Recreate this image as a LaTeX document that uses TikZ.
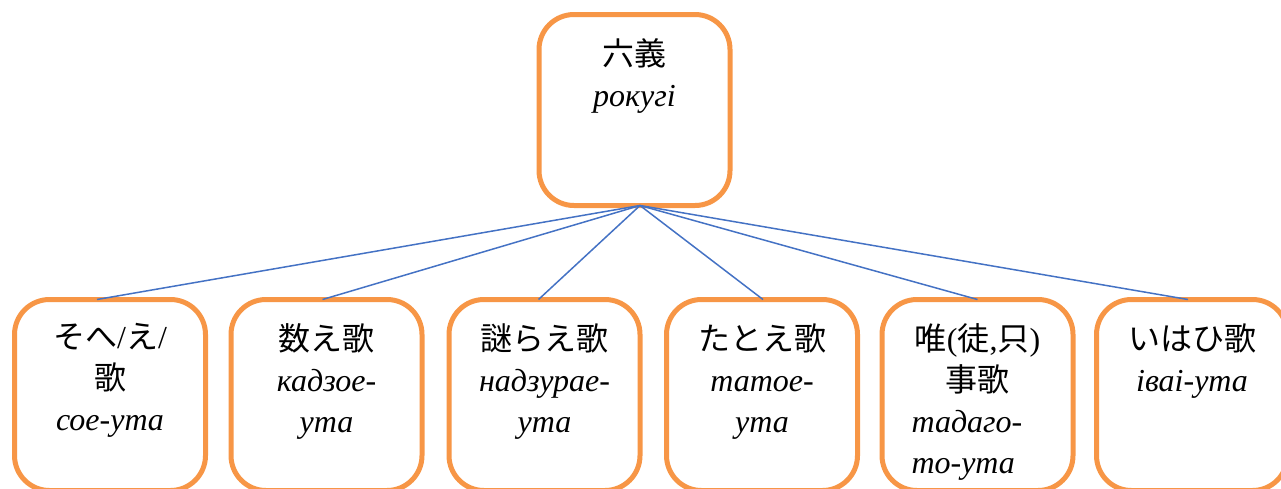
\documentclass[tikz,border=0pt]{standalone}
\usepackage{fontspec}
\setmainfont{Liberation Serif}
\newfontfamily\jp{Noto Sans CJK JP}
\usetikzlibrary{calc}
\definecolor{boxorange}{HTML}{F79646}
\definecolor{lineblue}{HTML}{4472C4}
\begin{document}
\begin{tikzpicture}[x=1pt,y=-1pt,
  box/.style={draw=boxorange,line width=5pt,rounded corners=35pt,fill=white,
    minimum width=191pt,minimum height=191pt,inner sep=0pt,outer sep=0pt},
  lbl/.style={anchor=north,align=center,inner sep=0pt,font=\fontsize{32}{41}\selectfont},
  link/.style={draw=lineblue,line width=1.5pt}]
\useasboundingbox (0,0) rectangle (1281,488);
\begin{scope}
\clip (0,0) rectangle (1281,488);
\node[box] (top) at (634.5,110) {};
\node[box] (b1) at (110,395) {};
\node[box] (b2) at (326.5,395) {};
\node[box] (b3) at (544.5,395) {};
\node[box] (b4) at (762,395) {};
\node[box] (b5) at (977.5,395) {};
\node[box] (b6) at (1192,395) {};
\coordinate (hub) at ([xshift=5.5pt]top.south);
\draw[link] (hub) -- ([xshift=-13pt]b1.north);
\draw[link] (hub) -- ([xshift=-4pt]b2.north);
\draw[link] (hub) -- ([xshift=-6pt]b3.north);
\draw[link] (hub) -- ([xshift=1pt]b4.north);
\draw[link] (hub) -- ([xshift=0pt]b5.north);
\draw[link] (hub) -- ([xshift=-4pt]b6.north);
\node[lbl] (t0) at ([yshift=-24pt]top.north) {{\jp 六義}\\\textit{рокугі}};
\node[lbl] (t1) at ([yshift=-24pt]b1.north) {{\jp そへ}/{\jp え}/\\{\jp 歌}\\\textit{сое-ута}};
\node[lbl] (t2) at ([yshift=-24pt]b2.north) {{\jp 数え歌}\\\textit{кадзое-}\\\textit{ута}};
\node[lbl] (t3) at ([yshift=-24pt]b3.north) {{\jp 謎らえ歌}\\\textit{надзурае-}\\\textit{ута}};
\node[lbl] (t4) at ([yshift=-24pt]b4.north) {{\jp たとえ歌}\\\textit{татое-}\\\textit{ута}};
\node[lbl] (t5) at ([yshift=-24pt]b5.north) {{\jp 唯}({\jp 徒},{\jp 只})\\{\jp 事歌}\\\makebox[132pt][l]{\textit{тадаго-}}\\\makebox[132pt][l]{\textit{то-ута}}};
\node[lbl] (t6) at ([yshift=-24pt]b6.north) {{\jp いはひ歌}\\\textit{іваі-ута}};
\end{scope}
\end{tikzpicture}
\end{document}
